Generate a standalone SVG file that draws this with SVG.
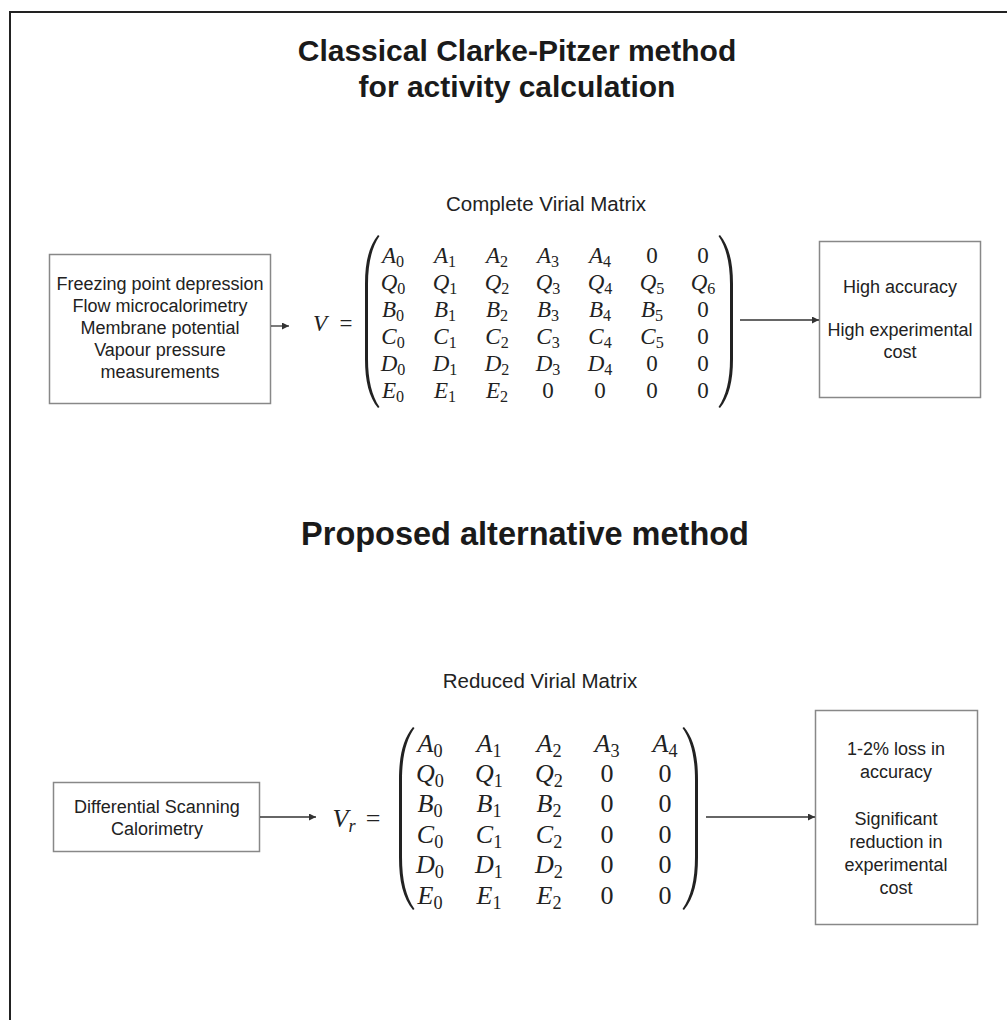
<svg xmlns="http://www.w3.org/2000/svg" width="1007" height="1020" viewBox="0 0 1007 1020">
<style>
.t{font-family:"Liberation Sans",Arial,sans-serif;font-weight:bold;font-size:30px;fill:#1a1a1a;text-anchor:middle}
.b{font-family:"Liberation Sans",Arial,sans-serif;font-size:18px;fill:#222;text-anchor:middle}
.lbl{font-size:20.5px}
.box{fill:#fff;stroke:#888;stroke-width:1.5}
.m1{font-family:"Liberation Serif","Times New Roman",serif;font-style:italic;font-size:23px;fill:#222;text-anchor:middle}
.m2{font-family:"Liberation Serif","Times New Roman",serif;font-style:italic;font-size:26px;fill:#222;text-anchor:middle}
.s{font-style:normal;font-size:70%}
.si{font-size:70%}
.z{font-style:normal}
.par{fill:#222;stroke:none}
.con{stroke:#333;stroke-width:1.3;fill:none;marker-end:url(#ah)}
</style>
<defs>
<marker id="ah" viewBox="0 0 10 10" refX="10" refY="5" markerWidth="9" markerHeight="7" markerUnits="userSpaceOnUse" orient="auto">
<path d="M0,0 L10,5 L0,10 Z" fill="#333"/>
</marker>
</defs>
<rect x="0" y="0" width="1007" height="1020" fill="#fff"/>
<path d="M9,12 H1007 M10,12 V1020" stroke="#222" stroke-width="2" fill="none"/>

<g id="title1">
<text class="t" x="517" y="61">Classical Clarke-Pitzer method</text>
<text class="t" x="517" y="97">for activity calculation</text>
</g>
<g id="title2"><text class="t" x="525" y="545" style="font-size:32.5px">Proposed alternative method</text></g>

<g id="inputs1">
<rect class="box" x="49.5" y="254.5" width="221" height="149"/>
<text class="b" x="160" y="290">Freezing point depression</text>
<text class="b" x="160" y="312">Flow microcalorimetry</text>
<text class="b" x="160" y="334">Membrane potential</text>
<text class="b" x="160" y="356">Vapour pressure</text>
<text class="b" x="160" y="378">measurements</text>
</g>

<g id="matrix1">
<text class="b lbl" x="546" y="211">Complete Virial Matrix</text>
<text class="m1" x="320" y="331" font-size="24">V</text>
<text class="m1 z" x="346" y="331" font-size="24">=</text>
<path class="par" d="M378,235 C369,246 365,262 365,284 L365,359 C365,381 369,397 378,408 L379.5,407 C372,396 368,380 368,359 L368,284 C368,263 372,247 379.5,236 Z"/>
<path class="par" d="M720,235 C729,246 733,262 733,284 L733,359 C733,381 729,397 720,408 L718.5,407 C726,396 730,380 730,359 L730,284 C730,263 726,247 718.5,236 Z"/>
<text class="m1" x="393" y="263">A<tspan class="s" dy="4">0</tspan></text>
<text class="m1" x="445" y="263">A<tspan class="s" dy="4">1</tspan></text>
<text class="m1" x="497" y="263">A<tspan class="s" dy="4">2</tspan></text>
<text class="m1" x="548" y="263">A<tspan class="s" dy="4">3</tspan></text>
<text class="m1" x="600" y="263">A<tspan class="s" dy="4">4</tspan></text>
<text class="m1 z" x="652" y="263">0</text>
<text class="m1 z" x="703" y="263">0</text>
<text class="m1" x="393" y="290">Q<tspan class="s" dy="4">0</tspan></text>
<text class="m1" x="445" y="290">Q<tspan class="s" dy="4">1</tspan></text>
<text class="m1" x="497" y="290">Q<tspan class="s" dy="4">2</tspan></text>
<text class="m1" x="548" y="290">Q<tspan class="s" dy="4">3</tspan></text>
<text class="m1" x="600" y="290">Q<tspan class="s" dy="4">4</tspan></text>
<text class="m1" x="652" y="290">Q<tspan class="s" dy="4">5</tspan></text>
<text class="m1" x="703" y="290">Q<tspan class="s" dy="4">6</tspan></text>
<text class="m1" x="393" y="317">B<tspan class="s" dy="4">0</tspan></text>
<text class="m1" x="445" y="317">B<tspan class="s" dy="4">1</tspan></text>
<text class="m1" x="497" y="317">B<tspan class="s" dy="4">2</tspan></text>
<text class="m1" x="548" y="317">B<tspan class="s" dy="4">3</tspan></text>
<text class="m1" x="600" y="317">B<tspan class="s" dy="4">4</tspan></text>
<text class="m1" x="652" y="317">B<tspan class="s" dy="4">5</tspan></text>
<text class="m1 z" x="703" y="317">0</text>
<text class="m1" x="393" y="344">C<tspan class="s" dy="4">0</tspan></text>
<text class="m1" x="445" y="344">C<tspan class="s" dy="4">1</tspan></text>
<text class="m1" x="497" y="344">C<tspan class="s" dy="4">2</tspan></text>
<text class="m1" x="548" y="344">C<tspan class="s" dy="4">3</tspan></text>
<text class="m1" x="600" y="344">C<tspan class="s" dy="4">4</tspan></text>
<text class="m1" x="652" y="344">C<tspan class="s" dy="4">5</tspan></text>
<text class="m1 z" x="703" y="344">0</text>
<text class="m1" x="393" y="371">D<tspan class="s" dy="4">0</tspan></text>
<text class="m1" x="445" y="371">D<tspan class="s" dy="4">1</tspan></text>
<text class="m1" x="497" y="371">D<tspan class="s" dy="4">2</tspan></text>
<text class="m1" x="548" y="371">D<tspan class="s" dy="4">3</tspan></text>
<text class="m1" x="600" y="371">D<tspan class="s" dy="4">4</tspan></text>
<text class="m1 z" x="652" y="371">0</text>
<text class="m1 z" x="703" y="371">0</text>
<text class="m1" x="393" y="398">E<tspan class="s" dy="4">0</tspan></text>
<text class="m1" x="445" y="398">E<tspan class="s" dy="4">1</tspan></text>
<text class="m1" x="497" y="398">E<tspan class="s" dy="4">2</tspan></text>
<text class="m1 z" x="548" y="398">0</text>
<text class="m1 z" x="600" y="398">0</text>
<text class="m1 z" x="652" y="398">0</text>
<text class="m1 z" x="703" y="398">0</text>
</g>

<g id="result1">
<rect class="box" x="819.5" y="241.5" width="161" height="156"/>
<text class="b" x="900" y="293">High accuracy</text>
<text class="b" x="900" y="336">High experimental</text>
<text class="b" x="900" y="358">cost</text>
</g>

<g id="inputs2">
<rect class="box" x="53.5" y="782.5" width="206" height="69"/>
<text class="b" x="157" y="813">Differential Scanning</text>
<text class="b" x="157" y="835">Calorimetry</text>
</g>

<g id="matrix2">
<text class="b lbl" x="540" y="688">Reduced Virial Matrix</text>
<text class="m2" x="344" y="827">V<tspan class="si" dy="5">r</tspan></text>
<text class="m2 z" x="373" y="827">=</text>
<path class="par" d="M413,727 C403,739 399,756 399,780 L399,857 C399,881 403,898 413,910 L414.5,909 C406,897 402,880 402,857 L402,780 C402,757 406,740 414.5,728 Z"/>
<path class="par" d="M684,727 C694,739 698,756 698,780 L698,857 C698,881 694,898 684,910 L682.5,909 C691,897 695,880 695,857 L695,780 C695,757 691,740 682.5,728 Z"/>
<text class="m2" x="430" y="752">A<tspan class="s" dy="5">0</tspan></text>
<text class="m2" x="489" y="752">A<tspan class="s" dy="5">1</tspan></text>
<text class="m2" x="549" y="752">A<tspan class="s" dy="5">2</tspan></text>
<text class="m2" x="607" y="752">A<tspan class="s" dy="5">3</tspan></text>
<text class="m2" x="665" y="752">A<tspan class="s" dy="5">4</tspan></text>
<text class="m2" x="430" y="782">Q<tspan class="s" dy="5">0</tspan></text>
<text class="m2" x="489" y="782">Q<tspan class="s" dy="5">1</tspan></text>
<text class="m2" x="549" y="782">Q<tspan class="s" dy="5">2</tspan></text>
<text class="m2 z" x="607" y="782">0</text>
<text class="m2 z" x="665" y="782">0</text>
<text class="m2" x="430" y="812">B<tspan class="s" dy="5">0</tspan></text>
<text class="m2" x="489" y="812">B<tspan class="s" dy="5">1</tspan></text>
<text class="m2" x="549" y="812">B<tspan class="s" dy="5">2</tspan></text>
<text class="m2 z" x="607" y="812">0</text>
<text class="m2 z" x="665" y="812">0</text>
<text class="m2" x="430" y="843">C<tspan class="s" dy="5">0</tspan></text>
<text class="m2" x="489" y="843">C<tspan class="s" dy="5">1</tspan></text>
<text class="m2" x="549" y="843">C<tspan class="s" dy="5">2</tspan></text>
<text class="m2 z" x="607" y="843">0</text>
<text class="m2 z" x="665" y="843">0</text>
<text class="m2" x="430" y="873">D<tspan class="s" dy="5">0</tspan></text>
<text class="m2" x="489" y="873">D<tspan class="s" dy="5">1</tspan></text>
<text class="m2" x="549" y="873">D<tspan class="s" dy="5">2</tspan></text>
<text class="m2 z" x="607" y="873">0</text>
<text class="m2 z" x="665" y="873">0</text>
<text class="m2" x="430" y="904">E<tspan class="s" dy="5">0</tspan></text>
<text class="m2" x="489" y="904">E<tspan class="s" dy="5">1</tspan></text>
<text class="m2" x="549" y="904">E<tspan class="s" dy="5">2</tspan></text>
<text class="m2 z" x="607" y="904">0</text>
<text class="m2 z" x="665" y="904">0</text>
</g>

<g id="result2">
<rect class="box" x="815.5" y="710.5" width="162" height="214"/>
<text class="b" x="896" y="755">1-2% loss in</text>
<text class="b" x="896" y="778">accuracy</text>
<text class="b" x="896" y="825">Significant</text>
<text class="b" x="896" y="848">reduction in</text>
<text class="b" x="896" y="871">experimental</text>
<text class="b" x="896" y="894">cost</text>
</g>

<g id="connectors">
<line class="con" x1="271" y1="326" x2="289" y2="326"/>
<line class="con" x1="740" y1="320" x2="819" y2="320"/>
<line class="con" x1="260" y1="817" x2="316" y2="817"/>
<line class="con" x1="706" y1="817" x2="815" y2="817"/>
</g>
</svg>
